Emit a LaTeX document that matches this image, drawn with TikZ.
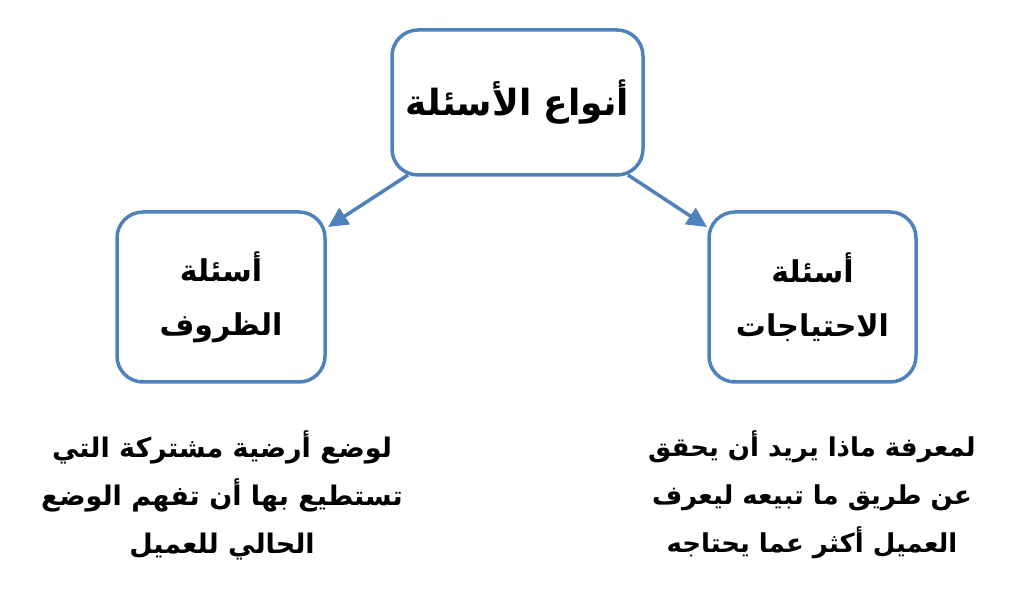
\documentclass[tikz,border=0pt]{standalone}
\usepackage{fontspec}
\usetikzlibrary{arrows.meta}
\TeXXeTstate=1
\newfontfamily\arabicfont[Script=Arabic]{DejaVu Sans}
\definecolor{boxblue}{HTML}{4F81BD}
\tikzset{
  qbox/.style={draw=boxblue, line width=3.5pt, rounded corners=26pt, fill=white},
  conn/.style={draw=boxblue, line width=3.5pt, -{Triangle[length=20pt,width=19pt]}},
  lbl/.style={align=center, font=\arabicfont\bfseries},
}
\begin{document}
\begin{tikzpicture}[x=1pt,y=-1pt]
\useasboundingbox (0,0) rectangle (1018,593);
% boxes
\node[qbox, minimum width=251pt, minimum height=145pt] (top) at (517.5,102.5) {};
\node[qbox, minimum width=208pt, minimum height=170pt] (left) at (221,297) {};
\node[qbox, minimum width=207pt, minimum height=170pt] (right) at (812.5,297) {};
% box texts
\node[lbl, font=\arabicfont\bfseries\fontsize{36}{40}\selectfont] (toptext) at (top.center) {\beginR أنواع الأسئلة\endR};
\node[lbl, font=\arabicfont\bfseries\fontsize{30}{54}\selectfont] (lefttext) at (left.center) {\beginR أسئلة\endR\\\beginR الظروف\endR};
\node[lbl, font=\arabicfont\bfseries\fontsize{30}{54}\selectfont] (righttext) at (right.center) {\beginR أسئلة\endR\\\beginR الاحتياجات\endR};
% connectors
\coordinate (ts1) at (408,175);
\coordinate (ts2) at (628,175);
\coordinate (le) at (328,227);
\coordinate (re) at (707,227);
\draw[conn] (ts1) -- (le);
\draw[conn] (ts2) -- (re);
% descriptions
\node[lbl, font=\arabicfont\bfseries\fontsize{27}{48}\selectfont] (ldesc) at (222,495) {\beginR لوضع أرضية مشتركة التي\endR\\\beginR تستطيع بها أن تفهم الوضع\endR\\\beginR الحالي للعميل\endR};
\node[lbl, font=\arabicfont\bfseries\fontsize{26}{48}\selectfont] (rdesc) at (812,495) {\beginR لمعرفة ماذا يريد أن يحقق\endR\\\beginR عن طريق ما تبيعه ليعرف\endR\\\beginR العميل أكثر عما يحتاجه\endR};
\end{tikzpicture}
\end{document}
